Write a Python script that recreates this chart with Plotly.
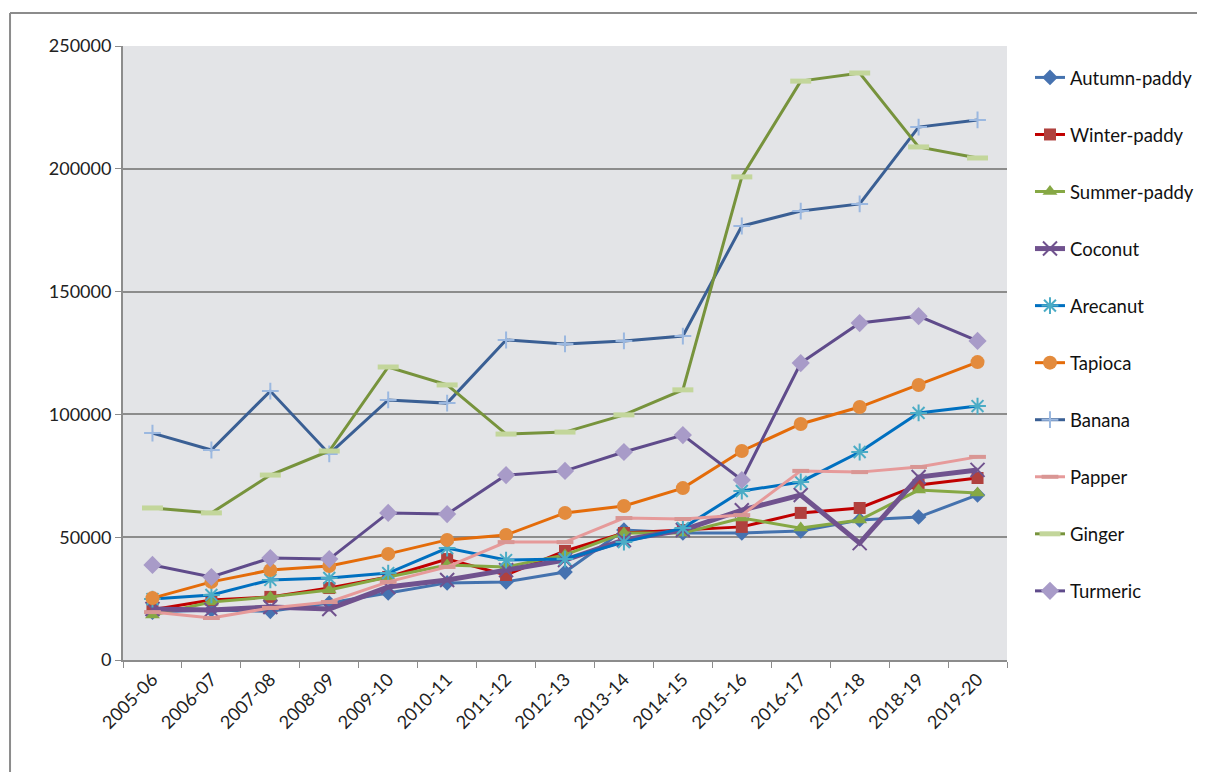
import plotly.graph_objects as go

years = ["2005-06", "2006-07", "2007-08", "2008-09", "2009-10", "2010-11", "2011-12",
         "2012-13", "2013-14", "2014-15", "2015-16", "2016-17", "2017-18", "2018-19", "2019-20"]

autumn_paddy = [19500, 20400, 19800, 23200, 27300, 31400, 31800, 35800, 52900, 51700, 51700, 52500, 57000, 58200, 67200]
winter_paddy = [20500, 24400, 25700, 29300, 33800, 41100, 34600, 44400, 51700, 52900, 54200, 59900, 61900, 71300, 74100]
summer_paddy = [18300, 23600, 25700, 28500, 33800, 38700, 37900, 42800, 51700, 51700, 57800, 53700, 57000, 69200, 68000]
coconut = [20800, 20400, 21600, 20800, 29700, 32600, 36600, 40700, 48900, 52900, 61000, 67200, 47600, 74500, 77400]
arecanut = [24800, 26500, 32600, 33400, 35400, 45600, 40700, 41100, 48000, 53700, 68800, 72500, 84700, 100600, 103400]
tapioca = [25200, 31800, 36600, 38300, 43200, 48900, 50900, 59900, 62700, 70000, 85100, 96100, 103000, 112000, 121300]
banana = [92400, 85500, 109500, 83900, 105900, 104600, 130300, 128700, 129900, 131900, 176700, 182800, 185700, 217000, 219900]
papper = [19500, 17100, 21200, 23600, 31800, 37900, 48000, 48000, 57800, 57400, 59000, 77000, 76500, 78600, 82700]
ginger = [61900, 59900, 75300, 85100, 119300, 112000, 92000, 92800, 99800, 110000, 196700, 235700, 239000, 208900, 204400]
turmeric = [38700, 33800, 41500, 41100, 59900, 59400, 75300, 77000, 84700, 91600, 73300, 120900, 137200, 140000, 129900]

series = [
    ("Autumn-paddy", autumn_paddy, "#4472AE", 3, dict(symbol="diamond", size=12, color="#4672B0")),
    ("Winter-paddy", winter_paddy, "#C00000", 3, dict(symbol="square", size=12, color="#B0413E")),
    ("Summer-paddy", summer_paddy, "#86A844", 3, dict(symbol="triangle-up", size=13, color="#86A844")),
    ("Coconut", coconut, "#70528E", 5, dict(symbol="x-thin-open", size=14, color="#70528E", line=dict(width=2, color="#70528E"))),
    ("Arecanut", arecanut, "#0070C0", 3, dict(symbol="asterisk-open", size=14, color="#4BACC6", line=dict(width=2, color="#4BACC6"))),
    ("Tapioca", tapioca, "#E46C0A", 3, dict(symbol="circle", size=14, color="#E38B3D")),
    ("Banana", banana, "#3A5F94", 3, dict(symbol="cross-thin-open", size=12, color="#9BB8E0", line=dict(width=2, color="#9BB8E0"))),
    ("Papper", papper, "#E69A9A", 3, dict(symbol="line-ew-open", size=12, color="#D99694", line=dict(width=4, color="#D99694"))),
    ("Ginger", ginger, "#77933C", 3, dict(symbol="line-ew-open", size=15, color="#C3D69B", line=dict(width=5, color="#C3D69B"))),
    ("Turmeric", turmeric, "#5F4B8B", 3, dict(symbol="diamond", size=14, color="#A89BC8")),
]

fig = go.Figure()
for name, vals, lc, lw, mk in series:
    fig.add_trace(go.Scatter(
        x=years, y=vals, name=name, mode="lines+markers",
        line=dict(color=lc, width=lw), marker=mk, legendgroup=name,
    ))

fig.update_layout(
    width=1189, height=764,
    margin=dict(l=115, r=190, t=38, b=112, autoexpand=False),
    paper_bgcolor="white",
    plot_bgcolor="#E3E4E7",
    font=dict(family="Lato, Open Sans, sans-serif", size=18, color="#222222"),
    showlegend=True,
    legend=dict(x=1.026, y=0.979, xanchor="left", yanchor="top",
                font=dict(size=18.5, color="#111111"), tracegroupgap=30,
                traceorder="grouped", bgcolor="rgba(0,0,0,0)"),
    xaxis=dict(type="category", showgrid=False, showline=True, linecolor="#8C8C8C", linewidth=2,
               ticks="outside", tickson="boundaries", ticklen=6, tickcolor="#8C8C8C",
               tickangle=-45, tickfont=dict(size=18), range=[-0.5, 14.5]),
    yaxis=dict(range=[0, 250000], dtick=50000, tickformat="d", showgrid=True, gridcolor="#8C8C8C",
               gridwidth=1.5, showline=True, linecolor="#8C8C8C", linewidth=2, ticks="outside",
               ticklen=6, tickcolor="#8C8C8C", tickfont=dict(size=18), zeroline=False),
    shapes=[
        dict(type="line", xref="paper", yref="paper", x0=-0.1278, x1=1.25, y0=1.0537, y1=1.0537,
             line=dict(color="#8C8C8C", width=2)),
        dict(type="line", xref="paper", yref="paper", x0=-0.1278, x1=-0.1278, y0=-0.25, y1=1.0537,
             line=dict(color="#8C8C8C", width=2)),
    ],
)

fig.write_html("out.html")
